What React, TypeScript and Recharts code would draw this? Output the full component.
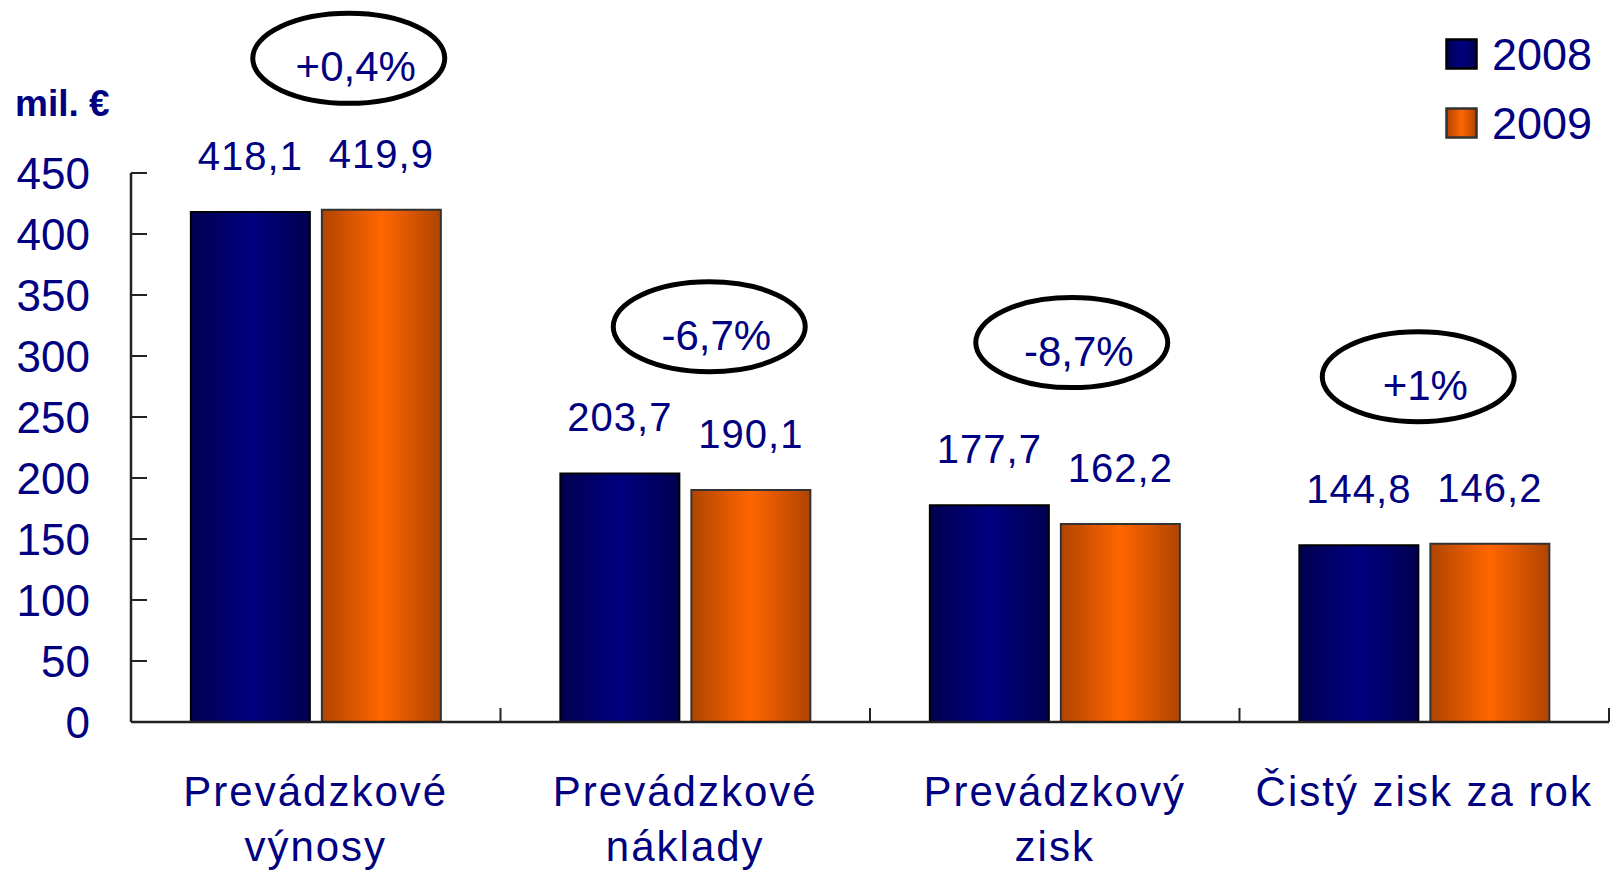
import React from "react";
import {
  BarChart, Bar, XAxis, YAxis, LabelList, ReferenceDot,
} from "recharts";

const CATEGORIES = [
  ["Prevádzkové", "výnosy"],
  ["Prevádzkové", "náklady"],
  ["Prevádzkový", "zisk"],
  ["Čistý zisk za rok"],
];
const Y2008 = [418.1, 203.7, 177.7, 144.8];
const Y2009 = [419.9, 190.1, 162.2, 146.2];
const CHANGES = ["+0,4%", "-6,7%", "-8,7%", "+1%"];
// where each ellipse sits (value units), and how far it is pushed sideways (px)
const CHANGE_Y = [544, 324, 311, 283];
const CHANGE_DX = [33, 24, 17, -6];
const Y_TICKS = [0, 50, 100, 150, 200, 250, 300, 350, 400, 450];

const NAVY = "#000080";
const FONT = "'Liberation Sans', Arial, sans-serif";

const data = CATEGORIES.map((c, i) => ({
  name: c.join(" "),
  lines: c,
  y2008: Y2008[i],
  y2009: Y2009[i],
}));

const fmt = (v: any) => Number(v).toFixed(1).replace(".", ",");

const BAND = (1612 - 131 - 3) / CATEGORIES.length;

function XTick(props: any) {
  const { x, y, payload, index } = props;
  const lines: string[] = data[index]?.lines ?? [payload.value];
  return (
    <g>
      {/* tick on the category boundary, pointing up */}
      <line x1={x + BAND / 2} x2={x + BAND / 2} y1={y - 14} y2={y} stroke="#222" strokeWidth={2} />
      <text textAnchor="middle" fill={NAVY} fontSize={42} fontFamily={FONT} letterSpacing={2}>
        {lines.map((l, i) => (
          <tspan key={i} x={x} y={y + 84 + i * 55}>{l}</tspan>
        ))}
      </text>
    </g>
  );
}

function YTick(props: any) {
  const { y, payload } = props;
  return (
    <g>
      <line x1={131} x2={147} y1={y} y2={y} stroke="#222" strokeWidth={2} />
      <text x={90} y={y + 16} textAnchor="end" fill={NAVY} fontSize={44} fontFamily={FONT}>
        {payload.value}
      </text>
    </g>
  );
}

function Ellipse(props: any) {
  const { cx, cy, label, dx } = props;
  return (
    <g>
      <ellipse cx={cx + dx} cy={cy} rx={96} ry={45} fill="none" stroke="#000" strokeWidth={5} />
      <text x={cx + dx + 7} y={cy + 23} textAnchor="middle" fill={NAVY} fontSize={42} fontFamily={FONT}>
        {label}
      </text>
    </g>
  );
}

function LegendBox() {
  const items = [
    { id: "g2008", stroke: "#000", label: "2008" },
    { id: "g2009", stroke: "#333", label: "2009" },
  ];
  return (
    <div style={{ position: "absolute", left: 1445, top: 20, fontFamily: FONT }}>
      {items.map((it) => (
        <div key={it.label} style={{ display: "flex", alignItems: "center", height: 69 }}>
          <svg width={34} height={34} style={{ marginRight: 13 }}>
            <rect x={1.5} y={1.5} width={30} height={29} fill={`url(#${it.id})`} stroke={it.stroke} strokeWidth={2.5} />
          </svg>
          <span style={{ color: NAVY, fontSize: 45, lineHeight: 1 }}>{it.label}</span>
        </div>
      ))}
    </div>
  );
}

export default function App() {
  return (
    <div style={{ position: "absolute", left: 0, top: 0, width: 1612, height: 873, background: "#fff" }}>
      <div style={{ position: "absolute", left: 15, top: 83, color: NAVY, fontWeight: "bold", fontSize: 37, fontFamily: FONT }}>
        mil. €
      </div>
      <BarChart
        width={1612}
        height={873}
        data={data}
        margin={{ top: 173, right: 3, left: 0, bottom: 0 }}
        barCategoryGap="16.2%"
        barGap={12}
      >
        <defs>
          <linearGradient id="g2008" x1="0" y1="0" x2="1" y2="0">
            <stop offset="0%" stopColor="#000050" />
            <stop offset="50%" stopColor="#000080" />
            <stop offset="100%" stopColor="#000050" />
          </linearGradient>
          <linearGradient id="g2009" x1="0" y1="0" x2="1" y2="0">
            <stop offset="0%" stopColor="#B04400" />
            <stop offset="50%" stopColor="#FF6600" />
            <stop offset="100%" stopColor="#B04400" />
          </linearGradient>
        </defs>
        <XAxis
          dataKey="name"
          height={151}
          tickLine={false}
          tickSize={0}
          tickMargin={0}
          axisLine={{ stroke: "#222", strokeWidth: 2.5 }}
          tick={<XTick />}
          interval={0}
        />
        <YAxis
          width={131}
          domain={[0, 450]}
          ticks={Y_TICKS}
          tickLine={false}
          axisLine={{ stroke: "#222", strokeWidth: 2.5 }}
          tick={<YTick />}
          allowDataOverflow
        />
        <Bar dataKey="y2008" name="2008" fill="url(#g2008)" stroke="#000" strokeWidth={2} isAnimationActive={false}>
          <LabelList dataKey="y2008" position="top" offset={42} formatter={fmt} fill={NAVY} fontSize={40} fontFamily={FONT} letterSpacing={1} />
        </Bar>
        <Bar dataKey="y2009" name="2009" fill="url(#g2009)" stroke="#333" strokeWidth={2} isAnimationActive={false}>
          <LabelList dataKey="y2009" position="top" offset={42} formatter={fmt} fill={NAVY} fontSize={40} fontFamily={FONT} letterSpacing={1} />
        </Bar>
        {data.map((d, i) => (
          <ReferenceDot
            key={d.name}
            x={d.name}
            y={CHANGE_Y[i]}
            ifOverflow="visible"
            shape={(p: any) => <Ellipse {...p} label={CHANGES[i]} dx={CHANGE_DX[i]} />}
          />
        ))}
      </BarChart>
      <LegendBox />
    </div>
  );
}
